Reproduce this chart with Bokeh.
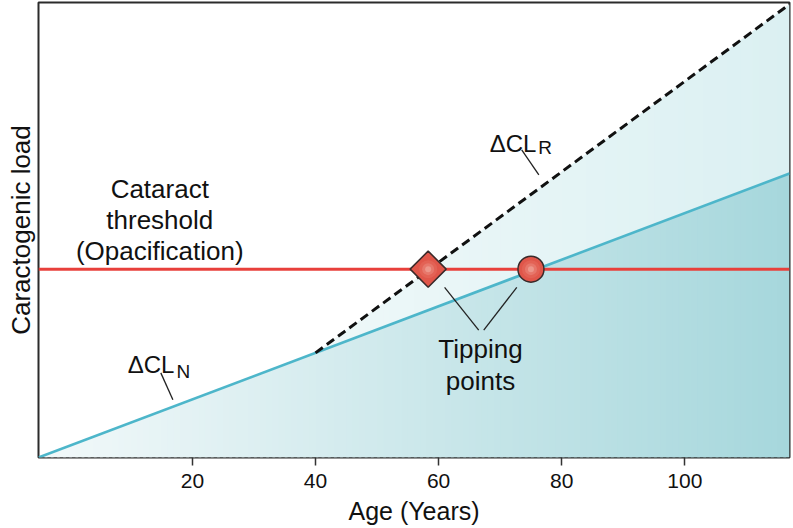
import numpy as np
from bokeh.plotting import figure
from bokeh.models import Range1d, FixedTicker
from bokeh.core.properties import value
from bokeh.embed import file_html
from bokeh.resources import INLINE

# ---------------- data ----------------
age_range = [-5, 117]
load_range = [0, 100]
age_ticks = [20, 40, 60, 80, 100]
age_tick_labels = ["20", "40", "60", "80", "100"]

normal_age = [-5, 117]          # ΔCL_N (normal cataractogenic load)
normal_load = [0.0, 62.4]

rapid_age = [40, 117]           # ΔCL_R (rapid load, dashed)
rapid_load = [23.0, 99.6]

threshold_load = 41.4           # cataract threshold (opacification)

tip_rapid_age = [58.3]          # diamond tipping point
tip_normal_age = [75.0]         # circle tipping point

FONT = value("Liberation Sans")

# ---------------- figure ----------------
p = figure(width=793, height=528,
           x_range=Range1d(*age_range), y_range=Range1d(*load_range),
           output_backend="svg", toolbar_location=None,
           min_border_left=38, min_border_right=4,
           min_border_top=2, min_border_bottom=71)
p.grid.visible = False
p.background_fill_color = "white"
p.border_fill_color = "white"
p.outline_line_color = "#2b2b2b"
p.outline_line_width = 2

# x axis
p.xaxis.ticker = FixedTicker(ticks=age_ticks)
p.xaxis.major_label_overrides = {t: l for t, l in zip(age_ticks, age_tick_labels)}
p.xaxis.axis_line_color = None
p.xaxis.major_tick_line_color = "#333333"
p.xaxis.major_tick_line_width = 1.5
p.xaxis.major_tick_in = 0
p.xaxis.major_tick_out = 8
p.xaxis.minor_tick_line_color = None
p.xaxis.major_label_text_font = "Liberation Sans"
p.xaxis.major_label_text_font_size = "21px"
p.xaxis.major_label_text_color = "#111111"
p.xaxis.major_label_standoff = 8
p.xaxis.axis_label = "Age (Years)"
p.xaxis.axis_label_text_font = "Liberation Sans"
p.xaxis.axis_label_text_font_size = "25px"
p.xaxis.axis_label_text_font_style = "normal"
p.xaxis.axis_label_text_color = "#111111"
p.xaxis.axis_label_standoff = 6

# y axis (no ticks)
p.yaxis.ticker = FixedTicker(ticks=[])
p.yaxis.axis_line_color = None
p.yaxis.major_tick_line_color = None
p.yaxis.minor_tick_line_color = None
p.yaxis.axis_label = "Caractogenic load"
p.yaxis.axis_label_text_font = "Liberation Sans"
p.yaxis.axis_label_text_font_size = "26px"
p.yaxis.axis_label_text_font_style = "normal"
p.yaxis.axis_label_text_color = "#111111"
p.yaxis.axis_label_standoff = 3

# ---------------- gradient fills ----------------
edges = np.linspace(age_range[0], age_range[1], 123)
eps = 0.45


def lower_top(a):
    return np.interp(a, normal_age, normal_load)


def upper_top(a):
    a = np.asarray(a, dtype=float)
    r = np.interp(a, rapid_age, rapid_load)
    return np.where(a >= rapid_age[0], np.maximum(r, lower_top(a)), lower_top(a))


def lerp_color(c0, c1, t):
    c = [int(round(c0[i] + (c1[i] - c0[i]) * t)) for i in range(3)]
    return "#%02x%02x%02x" % tuple(c)


low_c0, low_c1 = (243, 249, 250), (166, 215, 220)
up_c0, up_c1 = (250, 253, 253), (219, 240, 242)

lx, ly, lc, ux, uy, uc = [], [], [], [], [], []
for a, b in zip(edges[:-1], edges[1:]):
    bb = min(b + eps, age_range[1])
    t = ((a + b) / 2 - age_range[0]) / (age_range[1] - age_range[0])
    lx.append([a, bb, bb, a])
    ly.append([0, 0, float(lower_top(bb)), float(lower_top(a))])
    lc.append(lerp_color(low_c0, low_c1, t))
    if b > rapid_age[0]:
        ux.append([a, bb, bb, a])
        uy.append([float(lower_top(a)), float(lower_top(bb)),
                   float(upper_top(bb)), float(upper_top(a))])
        uc.append(lerp_color(up_c0, up_c1, t))

p.patches(lx, ly, fill_color=lc, line_color=None)
p.patches(ux, uy, fill_color=uc, line_color=None)

# ---------------- lines ----------------
p.line(age_range, [threshold_load, threshold_load], line_color="#e8403b", line_width=3)
p.line(normal_age, normal_load, line_color="#4db6ca", line_width=2.6)
p.line(rapid_age, rapid_load, line_color="#111111", line_width=3, line_dash="9 5")

# ---------------- tipping point markers ----------------
p.scatter(tip_rapid_age, [threshold_load], marker="square", angle=np.pi / 4,
          size=25.5, fill_color="#e0564a", line_color="#3a2a2a", line_width=1.5)
p.scatter(tip_normal_age, [threshold_load], marker="circle",
          size=26, fill_color="#e0564a", line_color="#3a2a2a", line_width=1.5)
for s, col, al in [(18, "#e46a5d", 0.6), (12, "#ea8679", 0.6), (6, "#f0a497", 0.7)]:
    p.scatter(tip_rapid_age + tip_normal_age, [threshold_load] * 2, marker="circle",
              size=s, fill_color=col, fill_alpha=al, line_color=None)

# ---------------- leader lines ----------------
p.segment(x0=[14.87, 73.5, 60.97, 72.7], y0=[18.6, 67.6, 37.4, 37.4],
          x1=[16.83, 76.28, 66.51, 67.33], y1=[12.7, 62.1, 28.0, 28.0],
          line_color="#222222", line_width=1.3)

# ---------------- annotations ----------------
p.text(x=[14.7, 14.7, 14.7], y=[59.1, 52.1, 45.3],
       text=["Cataract", "threshold", "(Opacification)"],
       text_font=FONT, text_font_size="26px", text_align="center",
       text_baseline="alphabetic", text_color="#111111")
p.text(x=[66.8, 66.8], y=[23.8, 16.8], text=["Tipping", "points"],
       text_font=FONT, text_font_size="26px", text_align="center",
       text_baseline="alphabetic", text_color="#111111")
p.text(x=[9.5, 68.3], y=[20.35, 69.1], text=["ΔCL", "ΔCL"],
       text_font=FONT, text_font_size="24px", text_align="left",
       text_baseline="alphabetic", text_color="#111111")
p.text(x=[17.4, 76.2], y=[18.8, 68.05], text=["N", "R"],
       text_font=FONT, text_font_size="19px", text_align="left",
       text_baseline="alphabetic", text_color="#111111")

open("out.html", "w").write(file_html(p, INLINE))
